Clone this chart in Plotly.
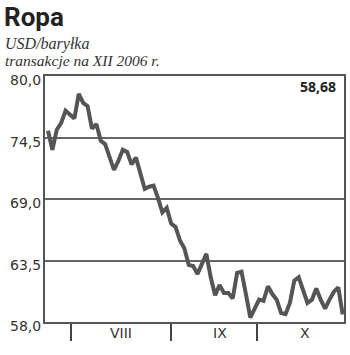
import plotly.graph_objects as go

# Daily closing prices (trading-day index), USD/barrel
prices = [75.1, 73.4, 75.2, 75.8, 76.9, 76.5, 76.2, 78.4, 77.6, 77.3,
          75.3, 75.7, 74.2, 73.9, 72.7, 71.6, 72.4, 73.4, 73.2, 72.1,
          72.7, 71.3, 69.9, 70.1, 70.2, 69.1, 67.8, 68.2, 66.8, 66.5,
          65.3, 64.6, 63.1, 63.0, 62.3, 63.2, 64.1, 62.0, 60.4, 61.3,
          60.6, 60.6, 60.1, 62.4, 62.5, 60.5, 58.4, 59.2, 60.0, 59.9,
          61.2, 60.5, 60.0, 58.8, 58.7, 59.7, 61.7, 62.0, 60.7, 59.7,
          60.0, 61.0, 60.0, 59.2, 60.0, 60.7, 61.1, 58.68]
days = list(range(len(prices)))

y_ticks = [58.0, 63.5, 69.0, 74.5, 80.0]
y_labels = ["58,0", "63,5", "69,0", "74,5", "80,0"]

month_bounds = [5.2, 28.0, 47.6]
month_centers = [16.6, 39.2, 58.5]
month_labels = ["VIII", "IX", "X"]
last_label = "58,68"

fig = go.Figure()
fig.add_trace(go.Scatter(x=days, y=prices, mode="lines",
                         line=dict(color="#555555", width=4),
                         hoverinfo="skip", showlegend=False))

fig.update_layout(
    width=350, height=355,
    margin=dict(l=45, r=4, t=76, b=33),
    paper_bgcolor="white", plot_bgcolor="white",
    xaxis=dict(range=[-0.68, 67.3], showgrid=False, zeroline=False,
               tickvals=month_bounds, ticktext=["", "", ""],
               ticks="outside", ticklen=17, tickwidth=1.5, tickcolor="#444",
               showline=True, linecolor="#555", linewidth=1.5, mirror=True,
               fixedrange=True),
    yaxis=dict(range=[58.0, 80.0], tickvals=y_ticks, showticklabels=False,
               showgrid=True, gridcolor="#666", gridwidth=1.5, zeroline=False,
               showline=True, linecolor="#555", linewidth=1.5, mirror=True,
               ticks="", fixedrange=True),
    font=dict(family="DejaVu Sans", color="#333"),
)

H = 355 - 76 - 33
W = 350 - 45 - 4
def ypix(p):
    return (355 - 33 - p) / H
def xpix(p):
    return (p - 45) / W

fig.add_annotation(text="<b>Ropa</b>", xref="paper", yref="paper",
                   x=xpix(2), y=ypix(17), xanchor="left", yanchor="middle",
                   showarrow=False,
                   font=dict(family="Roboto", size=26, color="#222"))
fig.add_annotation(text="<i>USD/baryłka</i>", xref="paper", yref="paper",
                   x=xpix(3), y=ypix(44), xanchor="left", yanchor="middle",
                   showarrow=False,
                   font=dict(family="Liberation Serif", size=16, color="#333"))
fig.add_annotation(text="<i>transakcje na XII 2006 r.</i>", xref="paper", yref="paper",
                   x=xpix(3), y=ypix(61), xanchor="left", yanchor="middle",
                   showarrow=False,
                   font=dict(family="Liberation Serif", size=15.5, color="#333"))
fig.add_annotation(text="<b>" + last_label + "</b>", xref="paper", yref="paper",
                   x=xpix(340), y=ypix(87), xanchor="right", yanchor="middle",
                   showarrow=False,
                   font=dict(family="Noto Sans", size=14, color="#222"))
for v, lab in zip(y_ticks, y_labels):
    fig.add_annotation(text=lab, x=0, xref="paper", y=v, yref="y",
                       xanchor="right", yanchor="middle", xshift=-2, yshift=-4,
                       showarrow=False,
                       font=dict(family="DejaVu Sans", size=14, color="#333"))
for c, lab in zip(month_centers, month_labels):
    fig.add_annotation(text=lab, x=c, xref="x", yref="paper", y=ypix(333),
                       xanchor="center", yanchor="middle", showarrow=False,
                       font=dict(family="DejaVu Sans", size=14, color="#333"))

fig.write_html("out.html")
